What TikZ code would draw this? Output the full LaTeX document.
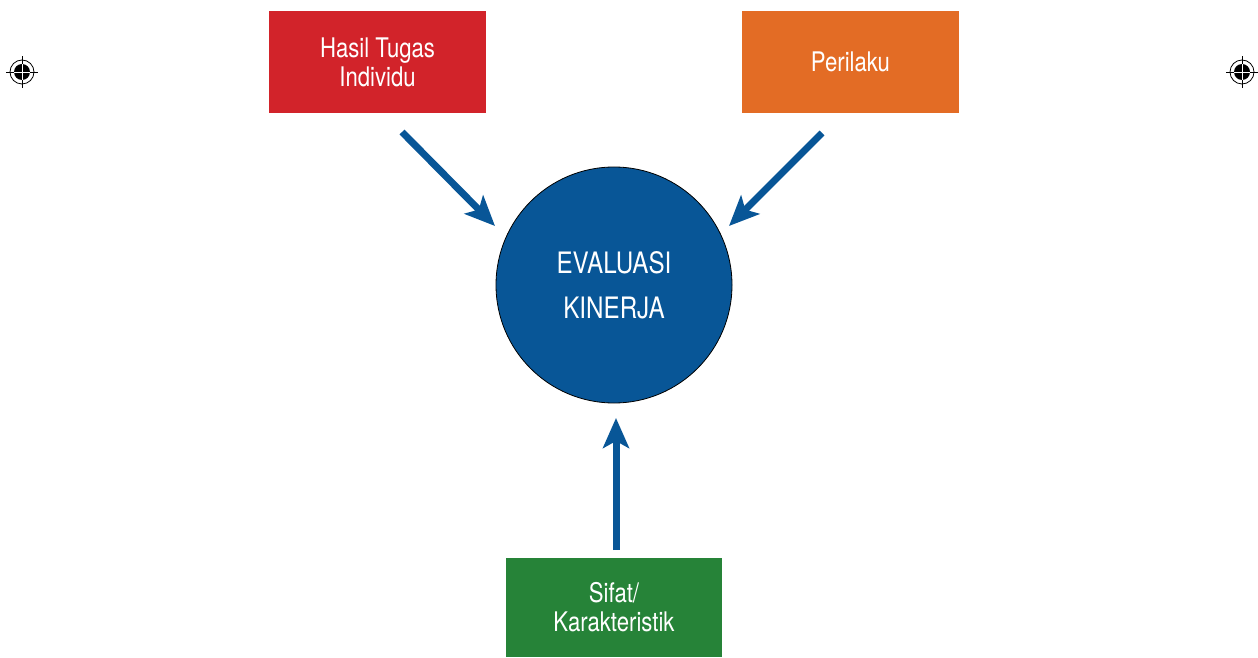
\documentclass[tikz,border=0pt]{standalone}
\usepackage{fontspec}
\setmainfont{TeX Gyre Heros}[FakeStretch=0.82]
\usetikzlibrary{arrows.meta}
\definecolor{cred}{HTML}{D2232A}
\definecolor{corange}{HTML}{E36C25}
\definecolor{cgreen}{HTML}{268338}
\definecolor{cblue}{HTML}{085697}
\tikzset{
  box/.style={minimum width=217pt,minimum height=102pt,inner sep=0pt,text=white,align=center,font=\fontsize{27}{29}\selectfont},
  arr/.style={draw=cblue,line width=7pt,-{Stealth[length=30pt,width=26pt,inset=7pt]}},
  regmark/.pic={
    \draw[line width=0.8pt] (0,0) circle (12pt);
    \fill (0,0) circle (8pt);
    \draw[line width=0.8pt] (-16pt,0) -- (16pt,0) (0,-16pt) -- (0,16pt);
    \draw[white,line width=0.8pt] (-8pt,0) -- (8pt,0) (0,-8pt) -- (0,8pt);
  }
}
\begin{document}
\begin{tikzpicture}[x=1pt,y=1pt]
\useasboundingbox (0,0) rectangle (1258,657);
\node[box,fill=cred] (hasil) at (377.5,595) {Hasil Tugas\\Individu};
\node[box,fill=corange] (perilaku) at (850.5,595) {Perilaku};
\node[box,fill=cgreen,minimum width=216pt,minimum height=99pt] (sifat) at (614,49.5) {Sifat/\\Karakteristik};
\node[circle,draw=black,line width=0.8pt,fill=cblue,minimum size=236pt,inner sep=0pt,text=white,align=center,font=\fontsize{29.5}{45}\selectfont] (eval) at (614,372) {EVALUASI\\KINERJA};
\coordinate (a1s) at (402,525);
\coordinate (a1e) at (495,431);
\coordinate (a2s) at (822,524);
\coordinate (a2e) at (729,431);
\coordinate (a3s) at (616,107);
\coordinate (a3e) at (616,239);
\draw[arr] (a1s) -- (a1e);
\draw[arr] (a2s) -- (a2e);
\draw[arr] (a3s) -- (a3e);
\pic at (22,585) {regmark};
\pic at (1242,585) {regmark};
\end{tikzpicture}
\end{document}
